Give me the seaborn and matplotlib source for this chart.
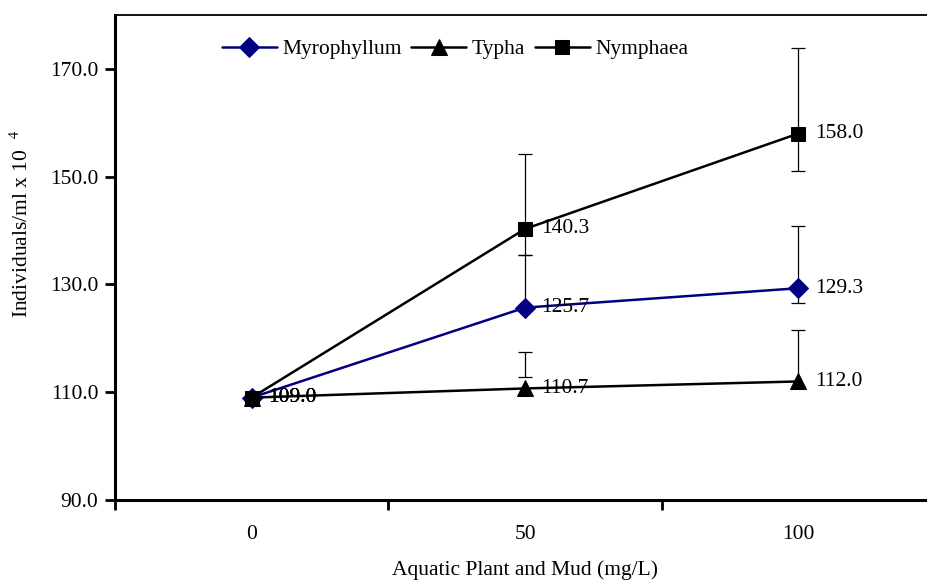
import numpy as np
import pandas as pd
import matplotlib
matplotlib.use('Agg')
import matplotlib.pyplot as plt
import seaborn as sns

# data
doses = ['0', '50', '100']
myro = [109.0, 125.7, 129.3]
typha = [109.0, 110.7, 112.0]
nymph = [109.0, 140.3, 158.0]

# error bar ends (None = bar starts at the point itself, no cap)
myro_lo = [None, None, 126.5]
myro_hi = [None, 135.4, 140.8]
typha_lo = [None, 112.9, None]
typha_hi = [None, 117.4, 121.5]
nymph_lo = [None, 135.4, 151.1]
nymph_hi = [None, 154.2, 173.9]

sns.set_style('ticks', rc={'axes.edgecolor': 'black', 'text.color': 'black',
                           'xtick.color': 'black', 'ytick.color': 'black',
                           'axes.labelcolor': 'black'})
plt.rcParams['font.family'] = ['Liberation Serif', 'DejaVu Serif']
plt.rcParams['mathtext.fontset'] = 'stix'

fs = 15.5

fig = plt.figure(figsize=(9.27, 5.83), dpi=100)
ax = fig.add_axes([115 / 927, 83 / 583, 820 / 927, 485 / 583])

x = np.arange(len(doses))
series = [
    ('Myrophyllum', myro, myro_lo, myro_hi, '#000080', 'D', 10),
    ('Typha', typha, typha_lo, typha_hi, 'black', '^', 11),
    ('Nymphaea', nymph, nymph_lo, nymph_hi, 'black', 's', 10.5),
]

for name, vals, lo, hi, col, mk, ms in series:
    df = pd.DataFrame({'x': x, 'y': vals})
    sns.lineplot(data=df, x='x', y='y', ax=ax, color=col, marker=mk,
                 markersize=ms, markeredgecolor=col, markerfacecolor=col,
                 linewidth=1.8, label=name, zorder=3)
    for i in range(len(x)):
        if hi[i] is None:
            continue
        bottom = lo[i] if lo[i] is not None else vals[i]
        ax.vlines(x[i], bottom, hi[i], color='black', lw=0.9, zorder=2)
        ax.plot([x[i]], [hi[i]], marker='_', ms=10, mew=0.9, color='black', zorder=2)
        if lo[i] is not None:
            ax.plot([x[i]], [lo[i]], marker='_', ms=10, mew=0.9, color='black', zorder=2)
    for i in range(len(x)):
        ax.text(x[i] + 0.06, vals[i], f'{vals[i]:.1f}', fontsize=fs,
                va='center', ha='left', zorder=4)

ax.set_xlim(-0.5, 2.5)
ax.set_ylim(90, 180)
ax.set_yticks([90, 110, 130, 150, 170])
ax.set_yticklabels([f'{v:.1f}' for v in [90, 110, 130, 150, 170]])
ax.set_xticks(x)
ax.set_xticklabels(doses)
ax.set_xticks([-0.5, 0.5, 1.5, 2.5], minor=True)
ax.tick_params(axis='x', which='major', length=0, pad=18, labelsize=fs)
ax.tick_params(axis='x', which='minor', length=7, width=2, direction='out')
ax.tick_params(axis='y', length=7, width=2, direction='out', labelsize=fs, pad=5)

for s in ['left', 'bottom']:
    ax.spines[s].set_linewidth(2.2)
ax.spines['top'].set_linewidth(1.3)
ax.spines['right'].set_visible(False)

ax.set_xlabel('Aquatic Plant and Mud (mg/L)', fontsize=fs, labelpad=12)
ax.set_ylabel('Individuals/ml x 10  $^{4}$', fontsize=fs)
ax.yaxis.set_label_coords(-0.10, 0.569)

ax.legend(loc='upper left', bbox_to_anchor=(0.112, 0.981), ncol=3, frameon=False,
          fontsize=fs, handlelength=2.55, handletextpad=0.25, columnspacing=0.45,
          borderaxespad=0.3)

fig.savefig('out.png', dpi=100)
